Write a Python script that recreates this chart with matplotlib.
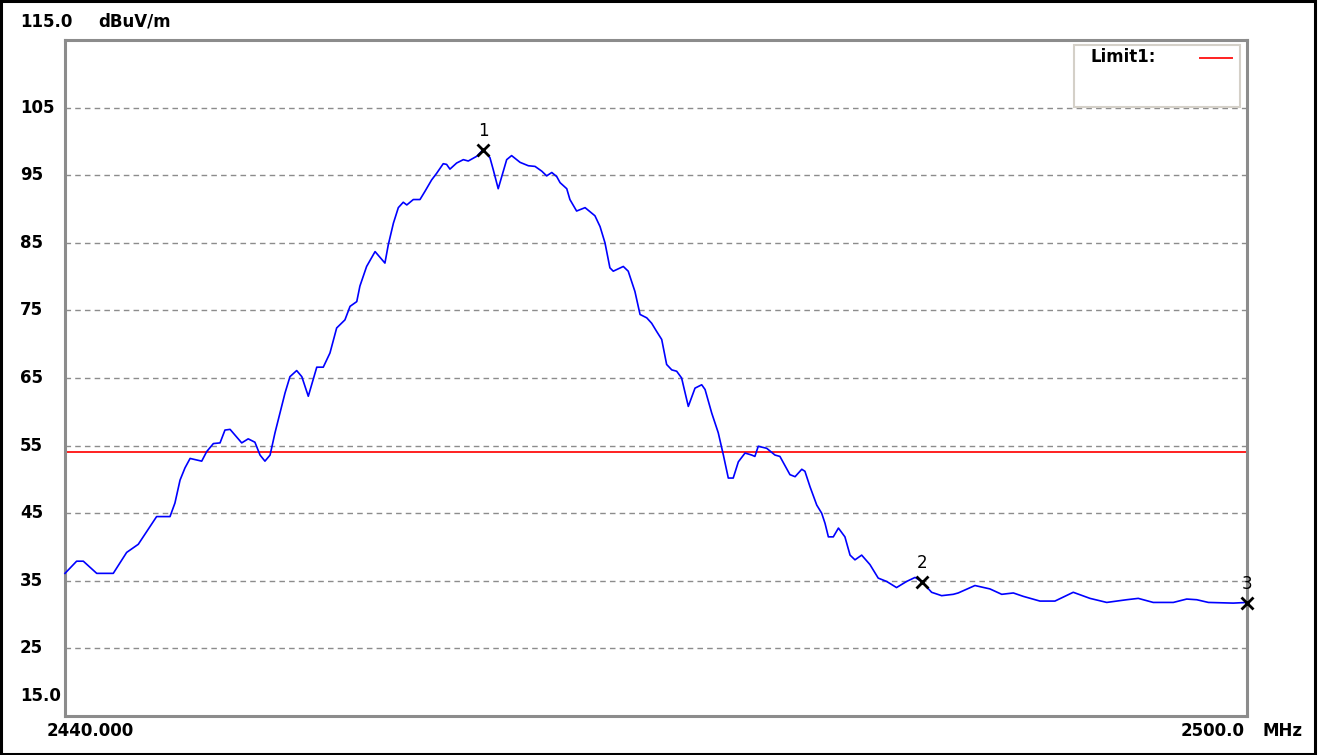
import matplotlib
matplotlib.use("Agg")
import matplotlib.pyplot as plt
from matplotlib.patches import Rectangle
import numpy as np

# trace (MHz, dBuV/m)
freq = [2440.00, 2440.59, 2440.93, 2441.61, 2442.45, 2443.13, 2443.72, 2444.15, 2444.65, 2445.33,
        2445.58, 2445.84, 2446.09, 2446.35, 2446.94, 2447.19, 2447.53, 2447.87, 2448.12, 2448.38,
        2448.97, 2449.30, 2449.64, 2449.90, 2450.15, 2450.41, 2450.66, 2450.91, 2451.17, 2451.42,
        2451.76, 2452.02, 2452.35, 2452.78, 2453.11, 2453.45, 2453.79, 2454.21, 2454.47, 2454.81,
        2454.97, 2455.31, 2455.74, 2456.24, 2456.41, 2456.67, 2456.92, 2457.17, 2457.35, 2457.68,
        2458.02, 2458.27, 2458.61, 2458.87, 2459.20, 2459.37, 2459.54, 2459.88, 2460.22, 2460.47,
        2460.90, 2461.23, 2461.57, 2461.74, 2461.99, 2462.17, 2462.42, 2462.67, 2463.10, 2463.52,
        2463.86, 2464.20, 2464.45, 2464.71, 2464.96, 2465.13, 2465.47, 2465.63, 2465.97, 2466.40,
        2466.90, 2467.16, 2467.41, 2467.66, 2467.83, 2468.34, 2468.59, 2468.93, 2469.19, 2469.53,
        2469.78, 2470.03, 2470.29, 2470.54, 2470.80, 2471.05, 2471.30, 2471.64, 2471.98, 2472.32,
        2472.49, 2472.83, 2473.16, 2473.42, 2473.67, 2473.92, 2474.18, 2474.52, 2474.86, 2475.02,
        2475.19, 2475.62, 2476.04, 2476.29, 2476.80, 2477.06, 2477.40, 2477.56, 2477.82, 2478.16,
        2478.41, 2478.58, 2478.75, 2479.00, 2479.26, 2479.59, 2479.85, 2480.10, 2480.44, 2480.86,
        2481.28, 2481.71, 2482.21, 2482.72, 2483.15, 2483.49, 2483.99, 2484.50, 2485.09, 2485.34,
        2486.19, 2486.95, 2487.55, 2488.14, 2488.64, 2489.49, 2490.25, 2491.18, 2492.03, 2492.88,
        2493.89, 2494.48, 2495.24, 2496.26, 2496.94, 2497.45, 2498.04, 2499.30, 2500.00]
level = [36.1, 37.9, 37.9, 36.1, 36.1, 39.2, 40.4, 42.3, 44.5, 44.5,
         46.5, 49.9, 51.7, 53.1, 52.7, 54.1, 55.3, 55.4, 57.3, 57.4,
         55.4, 56.0, 55.5, 53.6, 52.7, 53.6, 56.9, 59.8, 62.8, 65.2,
         66.1, 65.2, 62.3, 66.6, 66.6, 68.7, 72.4, 73.6, 75.6, 76.3,
         78.6, 81.5, 83.7, 82.0, 84.7, 87.9, 90.2, 91.0, 90.6, 91.4,
         91.4, 92.6, 94.3, 95.3, 96.7, 96.6, 95.9, 96.8, 97.3, 97.1,
         97.8, 98.8, 97.6, 95.8, 93.0, 94.8, 97.3, 97.9, 96.9, 96.4,
         96.3, 95.6, 94.9, 95.4, 94.8, 93.9, 93.0, 91.4, 89.7, 90.2,
         89.0, 87.4, 85.0, 81.3, 80.8, 81.5, 80.8, 77.8, 74.4, 73.9,
         73.1, 71.9, 70.7, 67.0, 66.2, 66.0, 65.0, 60.8, 63.5, 64.0,
         63.3, 59.8, 56.9, 53.6, 50.2, 50.2, 52.6, 53.9, 53.6, 53.4,
         54.9, 54.6, 53.6, 53.4, 50.7, 50.4, 51.5, 51.2, 48.9, 46.2,
         45.0, 43.5, 41.5, 41.5, 42.8, 41.5, 38.8, 38.1, 38.8, 37.4,
         35.4, 34.9, 34.0, 34.9, 35.5, 34.9, 33.3, 32.8, 33.0, 33.2,
         34.3, 33.8, 33.0, 33.2, 32.7, 32.0, 32.0, 33.3, 32.4, 31.8,
         32.2, 32.4, 31.8, 31.8, 32.3, 32.2, 31.8, 31.7, 31.8]

marker_freq = [2461.23, 2483.49, 2500.0]
marker_level = [98.8, 34.8, 31.7]
marker_names = ["1", "2", "3"]

limit1 = 54.0
grid_levels = [105, 95, 85, 75, 65, 55, 45, 35, 25]
f_start, f_stop = 2440.0, 2500.0
y_bottom, y_top = 15.0, 115.0

W, H = 1318, 755
fig = plt.figure(figsize=(W / 100, H / 100), dpi=100)
ax = fig.add_axes([65 / W, 1 - 716 / H, (1247 - 65) / W, (716 - 40) / H])
ax.set_xlim(f_start, f_stop)
ax.set_ylim(y_bottom, y_top)
ax.set_xticks([])
ax.set_yticks([])
for s in ax.spines.values():
    s.set_color("#8c8c8c")
    s.set_linewidth(2.2)

for g in grid_levels:
    ax.axhline(g, color="#8c8c8c", lw=1.0, ls=(0, (4, 3)), zorder=1)

ax.axhline(limit1, color="#ff2020", lw=1.4, zorder=2)
ax.plot(freq, level, color="#0000ff", lw=1.2, zorder=3, clip_on=False)

ax.plot(marker_freq, marker_level, ls="none", marker="x", ms=8, mew=2,
        color="black", zorder=4, clip_on=False)
for f, l, n in zip(marker_freq, marker_level, marker_names):
    ax.annotate(n, (f, l), xytext=(0, 7), textcoords="offset points",
                ha="center", va="bottom", fontsize=12, color="black",
                annotation_clip=False, zorder=5)

# axis labels drawn like the analyser does it
tf = dict(fontsize=12, fontweight="bold", color="black", family="DejaVu Sans")
fig.text(20 / W, 1 - 22 / H, "115.0", ha="left", va="center", **tf)
fig.text(98 / W, 1 - 22 / H, "dBuV/m", ha="left", va="center", **tf)
for g in grid_levels:
    ax.annotate(str(g), (0, g), xycoords=("figure fraction", "data"),
                xytext=(20, 0), textcoords="offset pixels",
                ha="left", va="center", annotation_clip=False, **tf)
fig.text(20 / W, 1 - 696 / H, "15.0", ha="left", va="center", **tf)
fig.text(47 / W, 1 - 731 / H, "2440.000", ha="left", va="center", **tf)
fig.text(1245 / W, 1 - 731 / H, "2500.0", ha="right", va="center", **tf)
fig.text(1262 / W, 1 - 731 / H, "MHz", ha="left", va="center", **tf)

# legend box
lx0, ly0, lx1, ly1 = 1074, 45, 1240, 107
fig.patches.append(Rectangle((lx0 / W, 1 - ly1 / H), (lx1 - lx0) / W, (ly1 - ly0) / H,
                             transform=fig.transFigure, facecolor="white",
                             edgecolor="#d4d0c8", lw=1.5, zorder=10))
fig.text(1091 / W, 1 - 57 / H, "Limit1:", ha="left", va="center", zorder=11, **tf)
fig.add_artist(plt.Line2D([1200 / W, 1232 / W], [1 - 58 / H, 1 - 58 / H],
                          transform=fig.transFigure, color="#ff2020", lw=1.4, zorder=11))

# outer frame
fig.patches.append(Rectangle((1 / W, 1 / H), (W - 4) / W, (H - 2) / H,
                             transform=fig.transFigure, fill=False,
                             edgecolor="black", lw=2.2, zorder=20))

fig.savefig("out.png", dpi=100)
